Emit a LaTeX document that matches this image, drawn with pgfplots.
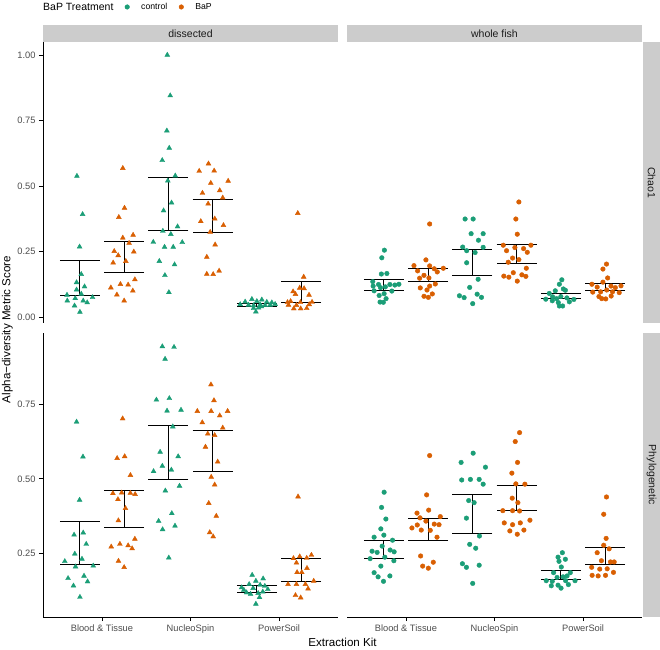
\documentclass[border=0pt]{standalone}
\usepackage{fontspec}
\setmainfont{Liberation Sans}
\usepackage{pgfplots}
\usepackage{pgfplotstable}
\pgfplotsset{compat=1.18}

\definecolor{ctrl}{HTML}{1B9E77}
\definecolor{bap}{HTML}{D95F02}
\definecolor{tickgray}{HTML}{4D4D4D}
\definecolor{stripgray}{HTML}{CCCCCC}
\newcommand{\fs}[1]{\fontsize{#1bp}{#1bp}\selectfont}

% error bars: x, lower, upper
\pgfplotstableread{
x lo hi
0.75 0.081 0.216
1.25 0.171 0.290
1.75 0.329 0.532
2.25 0.323 0.447
2.75 0.040 0.052
3.25 0.056 0.134
}\ebTL
\pgfplotstableread{
x lo hi
0.75 0.103 0.145
1.25 0.135 0.187
1.75 0.159 0.257
2.25 0.206 0.277
2.75 0.069 0.089
3.25 0.103 0.129
}\ebTR
\pgfplotstableread{
x lo hi
0.75 0.212 0.358
1.25 0.336 0.460
1.75 0.499 0.680
2.25 0.525 0.661
2.75 0.118 0.141
3.25 0.156 0.232
}\ebBL
\pgfplotstableread{
x lo hi
0.75 0.233 0.294
1.25 0.292 0.367
1.75 0.316 0.446
2.25 0.393 0.477
2.75 0.163 0.192
3.25 0.213 0.269
}\ebBR

\pgfplotsset{
  facet/.style={scale only axis, width=295bp, xmin=0.335, xmax=3.665,
    tick align=outside, major tick length=4bp,
    tick style={black, line width=0.8bp},
    axis line style={black, line width=0.9bp},
    ticklabel style={font=\fs{9.3}, text=tickgray},
    xtick={1,2,3}, xticklabels={Blood \& Tissue, NucleoSpin, PowerSoil},
    yticklabel style={/pgf/number format/.cd, fixed, fixed zerofill, precision=2},
    /pgf/number format/assume math mode=true},
  tri/.style={only marks, mark=triangle*, mark size=2.8bp, forget plot},
  dot/.style={only marks, mark=*, mark size=2.3bp, forget plot},
  ebar/.style={draw=none, mark=none, forget plot,
    error bars/.cd, y dir=both, y explicit, error mark=|,
    error bar style={draw=black, solid, line width=0.9bp},
    error mark options={draw=black, line width=0.9bp, mark size=20bp}},
}
\newcommand{\ebars}[1]{\addplot[ebar] table[x=x, y expr={(\thisrow{lo}+\thisrow{hi})/2},
  y error expr={(\thisrow{hi}-\thisrow{lo})/2}] {#1};}

\begin{document}
\begin{tikzpicture}
\path[use as bounding box, fill=white] (0,0) rectangle (660bp,650bp);

% strips
\fill[stripgray] (43bp,608bp) rectangle (338bp,625bp);
\fill[stripgray] (347bp,608bp) rectangle (642bp,625bp);
\fill[stripgray] (642.5bp,327bp) rectangle (660bp,608bp);
\fill[stripgray] (642.5bp,33bp) rectangle (660bp,317bp);
\node[font=\fs{10.5}, text={rgb,255:red,26;green,26;blue,26}] at (190.5bp,616.5bp) {dissected};
\node[font=\fs{10.5}, text={rgb,255:red,26;green,26;blue,26}] at (494.5bp,616.5bp) {whole fish};
\node[font=\fs{10.5}, rotate=-90, text={rgb,255:red,26;green,26;blue,26}] at (651.5bp,467.5bp) {Chao1};
\node[font=\fs{10.5}, rotate=-90, text={rgb,255:red,26;green,26;blue,26}] at (651.5bp,175bp) {Phylogenetic};

% titles
\node[font=\fs{11.6}, rotate=90] at (7.5bp,320.5bp) {Alpha−diversity Metric Score};
\node[font=\fs{11.6}, anchor=base] at (342.5bp,4bp) {Extraction Kit};
\node[font=\fs{10.5}, anchor=west, inner sep=0pt] at (43bp,643bp) {BaP Treatment};

% dissected / Chao1
\begin{axis}[facet, at={(43bp,327bp)}, anchor=south west, height=281bp,
  ymin=-0.0229, ymax=1.0496, ytick={0,0.25,0.5,0.75,1},
  axis y line*=left, axis x line=none,
  legend style={at={(0.2441,1.1246)}, anchor=west, draw=none, fill=none,
    inner sep=0pt, font=\fs{8.7}, column sep=0bp},
  legend columns=2,
  legend image code/.code={\path[draw=none, fill=none] (-12bp,0bp) -- (12bp,0bp);
    \draw[#1] plot coordinates {(0bp,0bp)};}]
\addlegendimage{only marks, mark=*, mark size=2.3bp, ctrl}
\addlegendentry{control}
\addlegendimage{only marks, mark=*, mark size=2.3bp, bap}
\addlegendentry{BaP}
\addplot[tri, ctrl] table {
0.718 0.538
0.782 0.392
0.748 0.268
0.767 0.163
0.714 0.132
0.804 0.116
0.714 0.104
0.606 0.084
0.767 0.088
0.699 0.071
0.609 0.062
0.789 0.062
0.894 0.075
0.834 0.055
0.691 0.043
0.752 0.019
1.738 1.000
1.771 0.845
1.733 0.711
1.760 0.645
1.681 0.598
1.828 0.539
1.744 0.520
1.786 0.436
1.696 0.406
1.854 0.345
1.688 0.328
1.778 0.316
1.580 0.286
1.707 0.267
1.805 0.267
1.907 0.285
1.648 0.213
1.820 0.200
1.711 0.159
1.756 0.094
2.693 0.068
2.805 0.066
2.617 0.058
2.749 0.060
2.861 0.057
2.918 0.055
2.561 0.048
2.655 0.046
2.712 0.044
2.786 0.047
2.842 0.045
2.899 0.046
2.955 0.049
2.712 0.033
2.768 0.035
2.738 0.020
2.800 0.040
};
\addplot[tri, bap] table {
1.236 0.568
1.255 0.416
1.191 0.381
1.352 0.313
1.236 0.302
1.307 0.282
1.139 0.251
1.184 0.235
1.360 0.249
1.270 0.213
1.127 0.207
1.372 0.143
1.209 0.125
1.296 0.123
1.101 0.112
1.349 0.100
1.169 0.085
1.251 0.062
2.203 0.585
2.098 0.557
2.267 0.558
2.229 0.511
2.425 0.519
2.135 0.473
2.330 0.483
2.364 0.455
2.199 0.432
2.116 0.365
2.274 0.375
2.372 0.350
2.222 0.324
2.278 0.276
2.184 0.229
2.184 0.164
2.256 0.163
2.323 0.176
3.211 0.396
3.278 0.153
3.233 0.111
3.282 0.109
3.158 0.097
3.185 0.087
3.338 0.084
3.095 0.056
3.196 0.045
3.241 0.056
3.372 0.057
3.106 0.046
3.166 0.032
3.244 0.032
3.312 0.033
3.130 0.060
3.340 0.048
};
\ebars{\ebTL}
\end{axis}

% whole fish / Chao1
\begin{axis}[facet, at={(347bp,327bp)}, anchor=south west, height=281bp,
  ymin=-0.0229, ymax=1.0496, hide axis]
\addplot[dot, ctrl] table {
0.757 0.255
0.728 0.226
0.723 0.164
0.785 0.166
0.626 0.135
0.691 0.124
0.819 0.124
0.875 0.122
0.921 0.125
0.630 0.118
0.641 0.100
0.713 0.112
0.768 0.115
0.841 0.099
0.698 0.082
0.754 0.089
0.776 0.070
0.708 0.057
0.745 0.056
1.668 0.374
1.759 0.374
1.736 0.318
1.872 0.318
1.819 0.293
1.641 0.267
1.686 0.253
1.781 0.246
1.872 0.266
1.686 0.207
1.815 0.144
1.720 0.113
1.604 0.081
1.657 0.074
1.804 0.087
1.853 0.075
1.754 0.051
2.760 0.142
2.732 0.125
2.777 0.107
2.686 0.100
2.800 0.102
2.618 0.090
2.656 0.077
2.579 0.068
2.652 0.062
2.701 0.070
2.749 0.078
2.817 0.073
2.896 0.067
2.720 0.055
2.732 0.042
2.769 0.042
2.845 0.058
};
\addplot[dot, bap] table {
1.268 0.355
1.226 0.218
1.091 0.196
1.132 0.176
1.268 0.195
1.320 0.184
1.422 0.186
1.354 0.172
1.204 0.159
1.155 0.148
1.260 0.149
1.332 0.126
1.162 0.111
1.268 0.118
1.238 0.103
1.298 0.088
1.204 0.079
1.253 0.075
2.275 0.439
2.241 0.374
2.257 0.316
2.099 0.274
2.230 0.265
2.328 0.261
2.411 0.274
2.136 0.253
2.370 0.247
2.204 0.225
2.275 0.219
2.155 0.209
2.359 0.186
2.212 0.169
2.309 0.161
2.105 0.156
2.162 0.152
2.354 0.155
2.257 0.137
3.264 0.202
3.224 0.183
3.277 0.149
3.224 0.133
3.100 0.125
3.159 0.114
3.315 0.118
3.364 0.112
3.428 0.119
3.109 0.095
3.198 0.096
3.267 0.103
3.332 0.096
3.408 0.093
3.179 0.078
3.211 0.070
3.317 0.080
3.256 0.069
};
\ebars{\ebTR}
\end{axis}

% dissected / Phylogenetic
\begin{axis}[facet, at={(43bp,33bp)}, anchor=south west, height=284bp,
  ymin=0.0362, ymax=0.9893, ytick={0.25,0.5,0.75},
  axis y line*=left, axis x line*=bottom]
\addplot[tri, ctrl] table {
0.714 0.691
0.786 0.574
0.748 0.429
0.686 0.312
0.789 0.319
0.823 0.281
0.694 0.248
0.775 0.231
0.581 0.223
0.702 0.205
0.902 0.208
0.618 0.166
0.798 0.174
0.838 0.155
0.679 0.141
0.752 0.103
1.682 0.944
1.814 0.942
1.713 0.902
1.615 0.765
1.761 0.770
1.735 0.728
1.893 0.731
1.800 0.675
1.657 0.590
1.861 0.575
1.682 0.543
1.583 0.525
1.784 0.530
1.716 0.460
1.876 0.476
1.789 0.384
1.640 0.358
1.685 0.330
1.825 0.342
1.755 0.235
2.696 0.177
2.820 0.165
2.738 0.157
2.577 0.135
2.662 0.146
2.786 0.144
2.873 0.129
2.633 0.118
2.707 0.133
2.764 0.116
2.816 0.121
2.678 0.113
2.779 0.102
2.738 0.080
2.602 0.127
2.839 0.140
};
\addplot[tri, bap] table {
1.234 0.702
1.172 0.569
1.257 0.575
1.322 0.512
1.124 0.451
1.223 0.453
1.321 0.452
1.375 0.448
1.181 0.431
1.266 0.401
1.186 0.360
1.372 0.298
1.105 0.272
1.203 0.281
1.296 0.276
1.341 0.266
1.187 0.224
1.251 0.203
2.231 0.816
2.265 0.763
2.077 0.727
2.233 0.727
2.330 0.712
2.419 0.727
2.133 0.689
2.364 0.671
2.195 0.651
2.273 0.646
2.169 0.607
2.307 0.557
2.234 0.506
2.273 0.480
2.206 0.418
2.291 0.375
2.217 0.320
2.256 0.306
3.214 0.440
3.162 0.233
3.233 0.239
3.312 0.234
3.365 0.244
3.196 0.218
3.315 0.200
3.203 0.186
3.256 0.186
3.101 0.146
3.196 0.146
3.297 0.146
3.391 0.157
3.327 0.131
3.185 0.109
3.244 0.101
};
\ebars{\ebBL}
\end{axis}

% whole fish / Phylogenetic
\begin{axis}[facet, at={(347bp,33bp)}, anchor=south west, height=284bp,
  ymin=0.0362, ymax=0.9893, ytick=\empty,
  axis x line*=bottom, axis y line=none]
\addplot[dot, ctrl] table {
0.754 0.455
0.725 0.404
0.774 0.365
0.717 0.332
0.641 0.304
0.751 0.311
0.849 0.294
0.732 0.274
0.618 0.257
0.675 0.253
0.822 0.261
0.867 0.255
0.596 0.232
0.762 0.237
0.864 0.225
0.717 0.207
0.641 0.185
0.686 0.171
0.819 0.174
0.747 0.156
1.759 0.586
1.623 0.555
1.898 0.539
1.630 0.496
1.728 0.498
1.827 0.498
1.872 0.482
1.709 0.427
1.770 0.420
1.683 0.368
1.830 0.308
1.720 0.280
1.788 0.267
1.638 0.215
1.683 0.203
1.827 0.210
1.754 0.149
2.766 0.252
2.717 0.237
2.800 0.230
2.728 0.223
2.754 0.204
2.667 0.185
2.706 0.169
2.774 0.171
2.819 0.174
2.856 0.185
2.584 0.158
2.652 0.156
2.803 0.158
2.909 0.158
2.641 0.141
2.717 0.143
2.751 0.133
2.834 0.145
};
\addplot[dot, bap] table {
1.268 0.578
1.234 0.446
1.125 0.385
1.257 0.395
1.159 0.369
1.388 0.373
1.128 0.345
1.320 0.348
1.374 0.346
1.173 0.328
1.275 0.327
1.351 0.304
1.068 0.335
1.166 0.241
1.309 0.220
1.189 0.207
1.253 0.200
1.226 0.358
2.283 0.655
2.234 0.625
2.260 0.555
2.196 0.519
2.241 0.483
2.343 0.482
2.200 0.435
2.264 0.420
2.094 0.393
2.204 0.393
2.283 0.392
2.400 0.361
2.110 0.352
2.204 0.346
2.291 0.352
2.173 0.325
2.332 0.328
2.257 0.314
3.264 0.439
3.233 0.381
3.260 0.300
3.233 0.277
3.159 0.252
3.207 0.225
3.309 0.221
3.351 0.221
3.097 0.203
3.188 0.197
3.272 0.198
3.343 0.186
3.102 0.176
3.170 0.174
3.253 0.176
3.294 0.265
};
\ebars{\ebBR}
\end{axis}
\end{tikzpicture}
\end{document}
